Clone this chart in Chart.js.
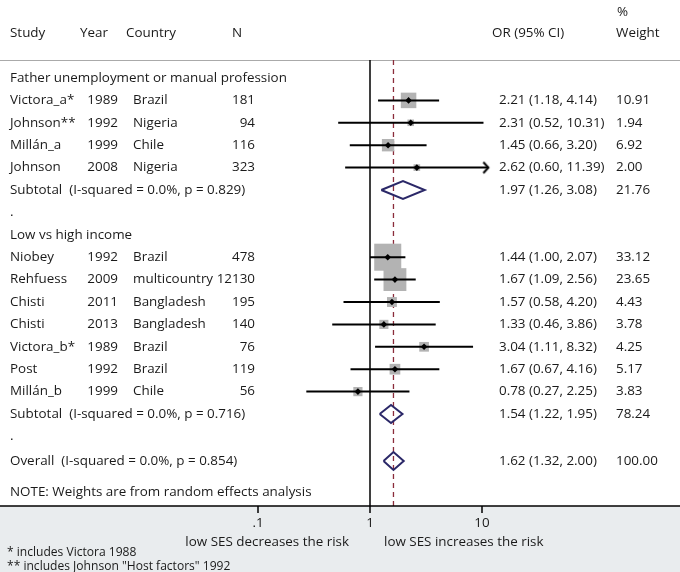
<!DOCTYPE html>
<html>
<head>
<meta charset="utf-8">
<script src="https://cdn.jsdelivr.net/npm/chart.js@4"></script>
<style>
  body { margin: 0; background: #fff; }
  canvas { display: block; }
</style>
</head>
<body>
<canvas id="forest" width="680" height="572"></canvas>
<script>
// study level data
var studies   = ['Victora_a*', 'Johnson**', 'Millán_a', 'Johnson', 'Niobey', 'Rehfuess', 'Chisti', 'Chisti', 'Victora_b*', 'Post', 'Millán_b'];
var years     = [1989, 1992, 1999, 2008, 1992, 2009, 2011, 2013, 1989, 1992, 1999];
var countries = ['Brazil', 'Nigeria', 'Chile', 'Nigeria', 'Brazil', 'multicountry', 'Bangladesh', 'Bangladesh', 'Brazil', 'Brazil', 'Chile'];
var sampleN   = [181, 94, 116, 323, 478, 12130, 195, 140, 76, 119, 56];
var oddsRatio = [2.21, 2.31, 1.45, 2.62, 1.44, 1.67, 1.57, 1.33, 3.04, 1.67, 0.78];
var ciLow     = [1.18, 0.52, 0.66, 0.60, 1.00, 1.09, 0.58, 0.46, 1.11, 0.67, 0.27];
var ciHigh    = [4.14, 10.31, 3.20, 11.39, 2.07, 2.56, 4.20, 3.86, 8.32, 4.16, 2.25];
var weights   = [10.91, 1.94, 6.92, 2.00, 33.12, 23.65, 4.43, 3.78, 4.25, 5.17, 3.83];
var groupOf   = [0, 0, 0, 0, 1, 1, 1, 1, 1, 1, 1];

// subgroups
var groupTitles    = ['Father unemployment or manual profession', 'Low vs high income'];
var subtotalOR     = [1.97, 1.54];
var subtotalLow    = [1.26, 1.22];
var subtotalHigh   = [3.08, 1.95];
var subtotalWeight = [21.76, 78.24];
var subtotalHet    = ['I-squared = 0.0%, p = 0.829', 'I-squared = 0.0%, p = 0.716'];

// overall
var overallOR = 1.62, overallLow = 1.32, overallHigh = 2.00, overallWeight = 100.00;
var overallHet = 'I-squared = 0.0%, p = 0.854';

// axis
var xTicks = [0.1, 1, 10];
var xTickLabels = ['.1', '1', '10'];
var clipAt = 11; // CI beyond this gets an arrow

// layout
var W = 680, H = 572;
var ROW0 = 78, ROWH = 22.4;      // pixel of first row, row height
var ONE_X = 370, DECADE = 112;   // pixel of OR = 1, pixels per decade
var AXIS_Y = 506;

// rows
var r = 0, titleRow = [], studyRow = [], subRow = [], dotRow = [];
for (var g = 0; g < groupTitles.length; g++) {
    titleRow[g] = r++;
    for (var i = 0; i < studies.length; i++) {
        if (groupOf[i] === g) studyRow[i] = r++;
    }
    subRow[g] = r++;
    dotRow[g] = r++;
}
var overallRow = r + 0.1;
var noteRow = r + 1.5;
var rowTop = (60 - ROW0) / ROWH, rowBottom = (AXIS_Y - ROW0) / ROWH;

var fmt = function (v) { return v.toFixed(2); };
var ciText = function (o, l, h) { return fmt(o) + ' (' + fmt(l) + ', ' + fmt(h) + ')'; };

// arrow head used as point style
var arrow = document.createElement('canvas');
arrow.width = 16; arrow.height = 14;
var ac = arrow.getContext('2d');
ac.strokeStyle = '#000'; ac.lineWidth = 2;
ac.beginPath(); ac.moveTo(3, 1.5); ac.lineTo(8, 7); ac.lineTo(3, 12.5); ac.stroke();

var datasets = [];

// reference lines
datasets.push({ data: [{x: 1, y: rowTop}, {x: 1, y: rowBottom}], showLine: true, borderColor: '#000', borderWidth: 1.5, pointRadius: 0, order: 100 });
datasets.push({ data: [{x: overallOR, y: rowTop}, {x: overallOR, y: rowBottom}], showLine: true, borderColor: '#8b2c3b', borderDash: [5, 4], borderWidth: 1.3, pointRadius: 0, order: 99 });

// weight boxes
datasets.push({
    data: studies.map(function (s, i) { return {x: oddsRatio[i], y: studyRow[i]}; }),
    pointStyle: 'rect',
    pointRadius: weights.map(function (w) { return 4.7 * Math.sqrt(w) / Math.SQRT2; }),
    backgroundColor: '#b3b3b3', borderWidth: 0, order: 90
});

// CI lines
studies.forEach(function (s, i) {
    datasets.push({ data: [{x: ciLow[i], y: studyRow[i]}, {x: ciHigh[i], y: studyRow[i]}], showLine: true, borderColor: '#000', borderWidth: 2, pointRadius: 0, order: 80 });
});

// point estimates
datasets.push({
    data: studies.map(function (s, i) { return {x: oddsRatio[i], y: studyRow[i]}; }),
    pointStyle: 'rectRot', pointRadius: 3.3, backgroundColor: '#000', borderWidth: 0, order: 60
});

// arrows
datasets.push({
    data: studies.map(function (s, i) { return {x: ciHigh[i], y: studyRow[i]}; }).filter(function (p) { return p.x > clipAt; }),
    pointStyle: arrow, pointRadius: 7, order: 60
});

// diamonds
function diamond(o, l, h, row) {
    var d = 0.4;
    return { data: [{x: l, y: row}, {x: o, y: row - d}, {x: h, y: row}, {x: o, y: row + d}, {x: l, y: row}],
             showLine: true, borderColor: '#2b2868', borderWidth: 2, pointRadius: 0, order: 70 };
}
for (var k = 0; k < subtotalOR.length; k++) datasets.push(diamond(subtotalOR[k], subtotalLow[k], subtotalHigh[k], subRow[k]));
datasets.push(diamond(overallOR, overallLow, overallHigh, overallRow));

var FONT = '"Open Sans", sans-serif';
var fontSize = 13;

var decor = {
    id: 'decor',
    beforeDraw: function (chart) {
        var c = chart.ctx;
        c.save();
        c.fillStyle = '#fff'; c.fillRect(0, 0, W, H);
        c.fillStyle = '#e9ecee'; c.fillRect(0, AXIS_Y, W, H - AXIS_Y);
        c.strokeStyle = '#aaa'; c.lineWidth = 1;
        c.beginPath(); c.moveTo(0, 60.5); c.lineTo(W, 60.5); c.stroke();
        c.restore();
    },
    afterDraw: function (chart) {
        var c = chart.ctx, xs = chart.scales.x, ys = chart.scales.y;
        c.save();
        // fit font to width of the group title
        c.font = fontSize + 'px ' + FONT;
        var fs = fontSize * 277 / c.measureText(groupTitles[0]).width;
        var main = fs.toFixed(2) + 'px ' + FONT;
        var small = (fs * 0.9).toFixed(2) + 'px ' + FONT;
        c.fillStyle = '#1a1a1a';
        c.textBaseline = 'middle';
        c.font = main;

        function txt(s, x, y, align) { c.textAlign = align || 'left'; c.fillText(s, x, y); }
        function yr(row) { return ys.getPixelForValue(row); }

        // header
        txt('Study', 10, 33); txt('Year', 80, 33); txt('Country', 126, 33); txt('N', 232, 33);
        txt('OR (95% CI)', 492, 33); txt('%', 617, 12); txt('Weight', 616, 33);

        for (var g = 0; g < groupTitles.length; g++) {
            txt(groupTitles[g], 10, yr(titleRow[g]));
            txt('Subtotal  (' + subtotalHet[g] + ')', 10, yr(subRow[g]));
            txt(ciText(subtotalOR[g], subtotalLow[g], subtotalHigh[g]), 499, yr(subRow[g]));
            txt(fmt(subtotalWeight[g]), 616, yr(subRow[g]));
            txt('.', 10, yr(dotRow[g]));
        }
        studies.forEach(function (s, i) {
            var y = yr(studyRow[i]);
            txt(s, 10, y);
            txt(String(years[i]), 118, y, 'right');
            txt(countries[i], 133, y);
            txt(String(sampleN[i]), 255, y, 'right');
            txt(ciText(oddsRatio[i], ciLow[i], ciHigh[i]), 499, y);
            txt(fmt(weights[i]), 616, y);
        });
        txt('Overall  (' + overallHet + ')', 10, yr(overallRow));
        txt(ciText(overallOR, overallLow, overallHigh), 499, yr(overallRow));
        txt(fmt(overallWeight), 616, yr(overallRow));
        txt('NOTE: Weights are from random effects analysis', 10, yr(noteRow));

        // x axis
        c.strokeStyle = '#000'; c.lineWidth = 1.5;
        c.beginPath(); c.moveTo(0, AXIS_Y); c.lineTo(W, AXIS_Y); c.stroke();
        xTicks.forEach(function (t, i) {
            var px = xs.getPixelForValue(t);
            c.beginPath(); c.moveTo(px, AXIS_Y); c.lineTo(px, AXIS_Y + 7); c.stroke();
            txt(xTickLabels[i], px, 523, 'center');
        });
        txt('low SES decreases the risk', 349, 542, 'right');
        txt('low SES increases the risk', 384, 542);

        c.font = small;
        txt('* includes Victora 1988', 7, 553);
        txt('** includes Johnson "Host factors" 1992', 7, 567);
        c.restore();
    }
};

new Chart(document.getElementById('forest').getContext('2d'), {
    type: 'scatter',
    data: { datasets: datasets },
    options: {
        responsive: false,
        animation: false,
        events: [],
        layout: { padding: 0, autoPadding: false },
        plugins: { legend: { display: false }, tooltip: { enabled: false } },
        scales: {
            x: { type: 'logarithmic', display: false,
                 min: Math.pow(10, -ONE_X / DECADE), max: Math.pow(10, (W - ONE_X) / DECADE) },
            y: { type: 'linear', display: false, reverse: true,
                 min: -ROW0 / ROWH, max: (H - ROW0) / ROWH }
        }
    },
    plugins: [decor]
});
</script>
</body>
</html>
